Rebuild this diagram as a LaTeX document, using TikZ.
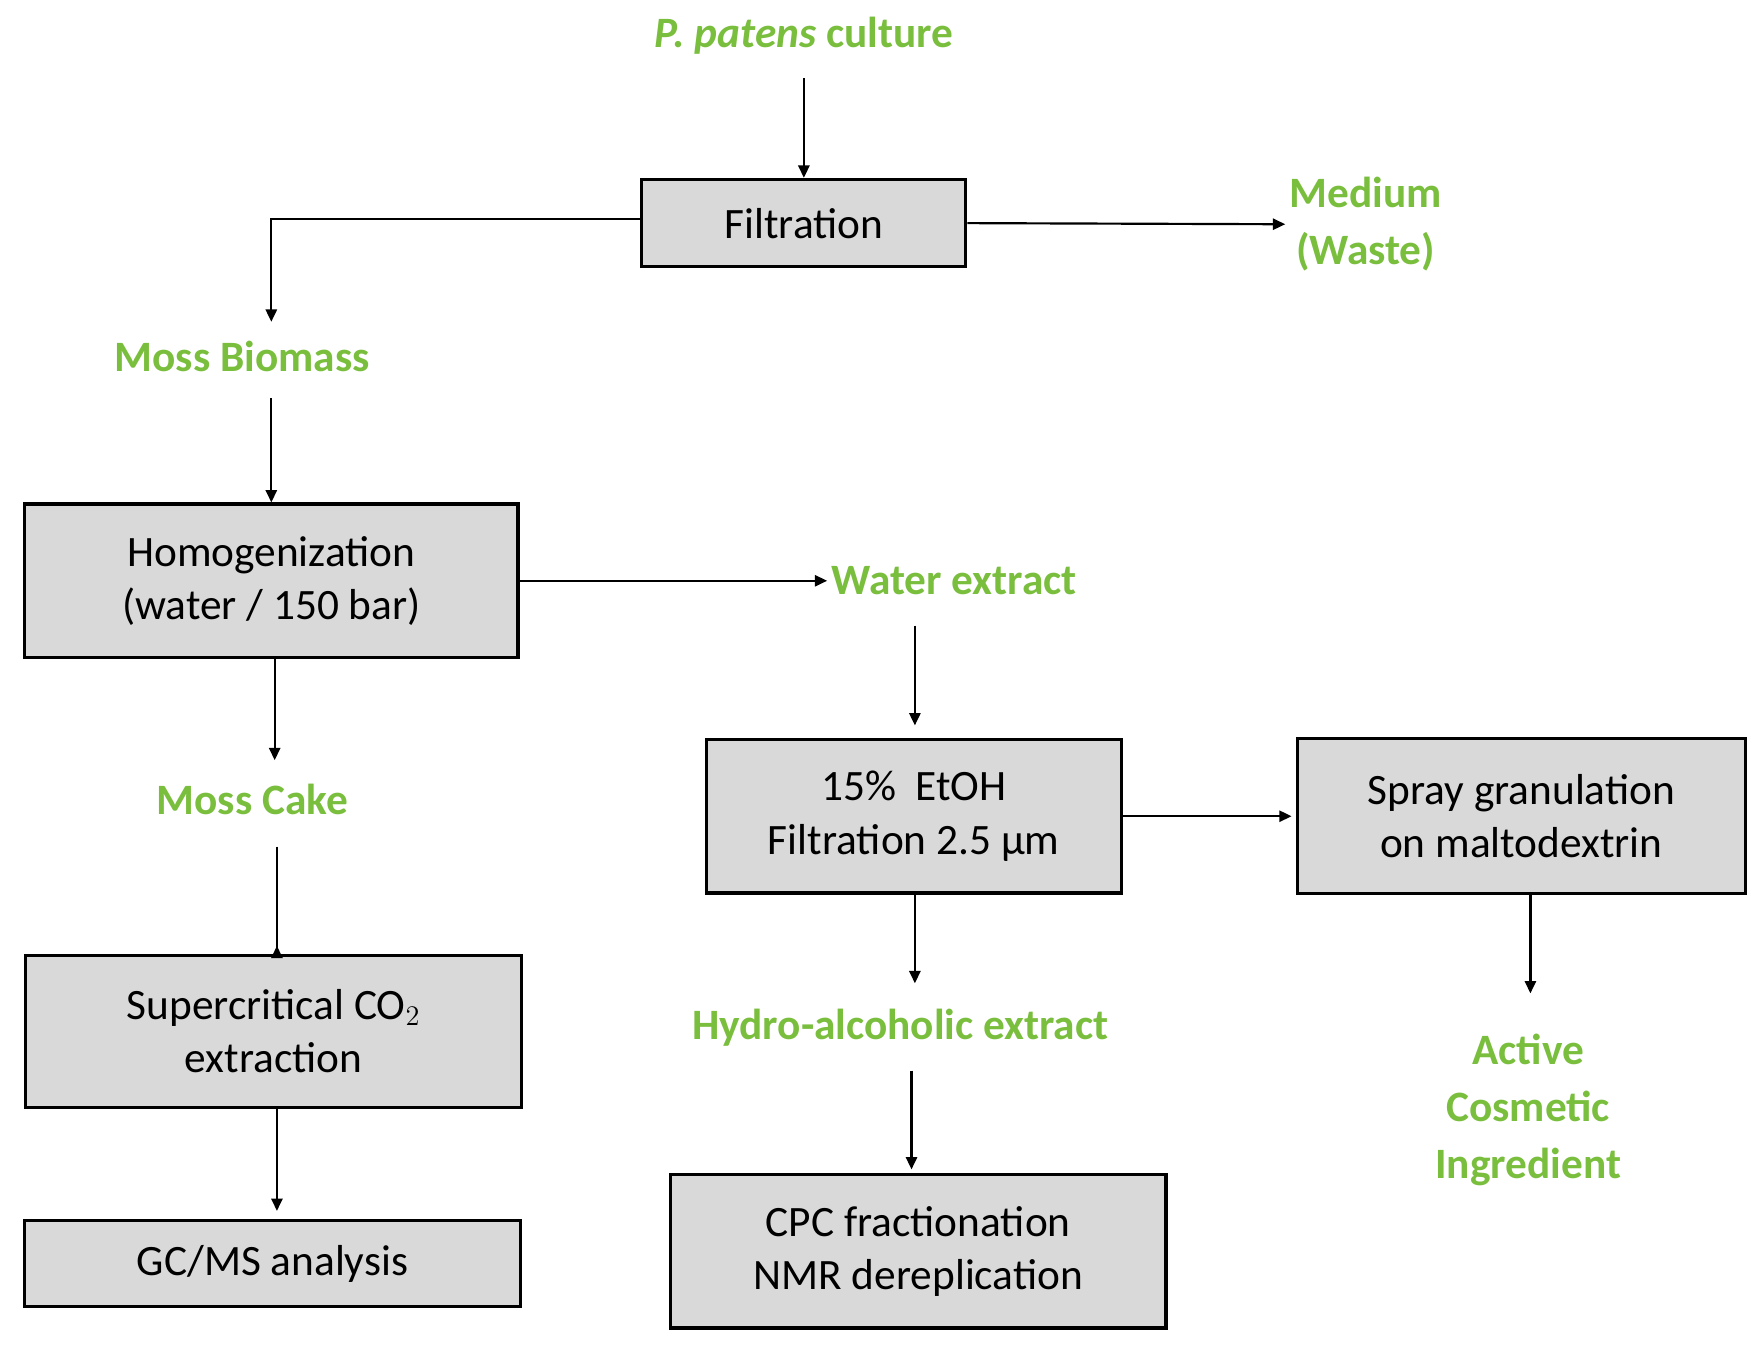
\documentclass[tikz,border=0pt]{standalone}
\usepackage{fontspec}
\setmainfont{Carlito}
\usetikzlibrary{arrows.meta}
\definecolor{mg}{RGB}{122,190,62}
\definecolor{bx}{RGB}{217,217,217}
\begin{document}
\begin{tikzpicture}[x=0.02cm,y=-0.02cm,
  box/.style={draw=black,line width=1.6pt,fill=bx,font=\fontsize{22}{27}\selectfont,align=center,inner sep=0pt},
  lab/.style={text=mg,font=\fontsize{22}{29}\selectfont\bfseries,align=center,inner sep=2pt},
  arr/.style={line width=1.1pt,-{Triangle[length=2.2mm,width=2mm]}}]
\useasboundingbox (0,0) rectangle (1568,1208);
\node[box,minimum width=289*0.02cm,minimum height=78*0.02cm] (filt) at (717,199) {Filtration};
\node[box,minimum width=440*0.02cm,minimum height=137*0.02cm] (hom) at (242,518) {Homogenization\\(water / 150 bar)};
\node[box,minimum width=442*0.02cm,minimum height=136*0.02cm] (sc) at (244,920) {Supercritical CO$_2$\\extraction};
\node[box,minimum width=443*0.02cm,minimum height=77*0.02cm] (gc) at (243,1127) {GC/MS analysis};
\node[box,minimum width=370*0.02cm,minimum height=137*0.02cm] (eth) at (815,728) {15\%\ \ EtOH\\Filtration 2.5 µm};
\node[box,minimum width=400*0.02cm,minimum height=138*0.02cm] (spr) at (1357,728) {Spray granulation\\on maltodextrin};
\node[box,minimum width=442*0.02cm,minimum height=137*0.02cm] (cpc) at (819,1116) {CPC fractionation\\NMR dereplication};
\node[lab] (pp) at (717,32) {\textit{P. patens} culture};
\node[lab] (med) at (1218,200) {Medium\\(Waste)};
\node[lab] (mb) at (216,318) {Moss Biomass};
\node[lab] (we) at (851,518) {Water extract};
\node[lab] (mc) at (225,713) {Moss Cake};
\node[lab] (ha) at (803,917) {Hydro-alcoholic extract};
\node[lab] (aci) at (1363,990) {Active\\Cosmetic\\Ingredient};
\coordinate (c1) at (242,287);
\draw[arr] (717,70) -- (filt.north);
\draw[arr] (filt.west |- 195,195) -| (c1);
\draw[arr] (filt.east) -- (med.west);
\draw[arr] (242,355) -- (hom.north -| 242,0);
\draw[arr] (hom.east) -- (we.west);
\draw[arr] (hom.south -| 245,0) -- (245,678);
\draw[arr] (247,755) -- (sc.north -| 247,0) ++(0,-7);
\draw[arr] (sc.south -| 247,0) -- (247,1080);
\draw[arr] (816,558) -- (816,647);
\draw[arr] (eth.east) -- (1152,728);
\draw[arr] (eth.south -| 816,0) -- (816,877);
\draw[arr] (813,955) -- (813,1043);
\draw[arr] (spr.south -| 1365,0) -- (1365,886);
\end{tikzpicture}
\end{document}
